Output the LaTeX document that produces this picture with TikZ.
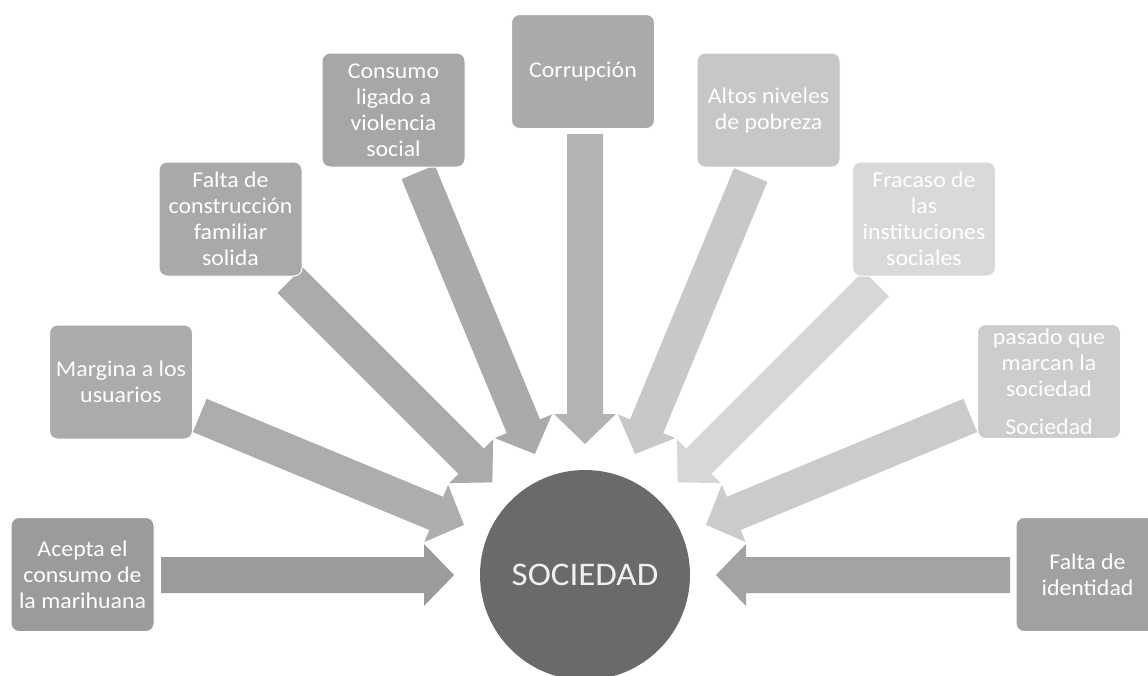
\documentclass[tikz,border=0pt]{standalone}
\usepackage{fontspec}
\setmainfont{Carlito}[FakeStretch=1.06]
\usetikzlibrary{calc}
\definecolor{bA}{HTML}{9B9B9B}\definecolor{aA}{HTML}{9B9B9B}
\definecolor{bB}{HTML}{ABABAB}\definecolor{aB}{HTML}{ADADAD}
\definecolor{bC}{HTML}{A9A9A9}\definecolor{aC}{HTML}{ABABAB}
\definecolor{bD}{HTML}{A7A7A7}\definecolor{aD}{HTML}{AAAAAA}
\definecolor{bE}{HTML}{AAAAAA}\definecolor{aE}{HTML}{B3B3B3}
\definecolor{bF}{HTML}{C7C7C7}\definecolor{aF}{HTML}{C8C8C8}
\definecolor{bG}{HTML}{D9D9D9}\definecolor{aG}{HTML}{D7D7D7}
\definecolor{bH}{HTML}{CDCDCD}\definecolor{aH}{HTML}{CBCBCB}
\definecolor{bI}{HTML}{A1A1A1}\definecolor{aI}{HTML}{A3A3A3}
\definecolor{socgray}{HTML}{6A6A6A}
\newcommand\fatarr[3]{%
  \coordinate (hb) at ($(#2)!30pt!(#1)$);
  \fill[#3] ($(#1)!18pt!90:(#2)$) -- ($(hb)!18pt!90:(#2)$) -- ($(hb)!31pt!90:(#2)$)
     -- (#2) -- ($(hb)!31pt!-90:(#2)$) -- ($(hb)!18pt!-90:(#2)$) -- ($(#1)!18pt!-90:(#2)$) -- cycle;}
\begin{document}
\begin{tikzpicture}[x=1pt,y=-1pt,
  box/.style={rounded corners=8pt, fill=#1, draw=white, line width=1pt,
    minimum width=143pt, minimum height=114pt, text=white, align=center,
    font=\fontsize{22.5}{26}\selectfont, inner sep=0pt}]
\useasboundingbox (0,0) rectangle (1148,675);
\node[circle, fill=socgray, minimum size=210pt, inner sep=0pt, text=white!94!black,
  font=\fontsize{33}{36}\selectfont] (soc) at (585,575) {SOCIEDAD};
% tails and tips
\foreach \n/\a/\d in {1/180/424, 2/157.5/417, 3/135/417, 4/112.5/436, 5/90/441,
                      6/67.5/433, 7/45/412, 8/22.5/417, 9/0/425}{
  \coordinate (s\n) at ($(soc.center)+(\a:\d pt)$);
  \coordinate (t\n) at ($(soc.center)+(\a:131pt)$);
}
\fatarr{s1}{t1}{aA}
\fatarr{s2}{t2}{aB}
\fatarr{s3}{t3}{aC}
\fatarr{s4}{t4}{aD}
\fatarr{s5}{t5}{aE}
\fatarr{s6}{t6}{aF}
\fatarr{s7}{t7}{aG}
\fatarr{s8}{t8}{aH}
\fatarr{s9}{t9}{aI}
% boxes
\node[box=bA] (b1) at (82.5,574.5) {Acepta el\\consumo de\\la marihuana};
\node[box=bB] (b2) at (121,382) {Margina a los\\usuarios};
\node[box=bC] (b3) at (230.5,219) {Falta de\\construcción\\familiar\\solida};
\node[box=bD] (b4) at (393.5,110) {Consumo\\ligado a\\violencia\\social};
\node[box=bE] (b5) at (583,71.5) {Corrupción};
\node[box=bF] (b6) at (768.5,110) {Altos niveles\\de pobreza};
\node[box=bG] (b7) at (924,219) {Fracaso de\\las\\instituciones\\sociales};
\node[box=bH] (b8) at (1049,381.5) {pasado que\\marcan la\\sociedad\\[12pt]Sociedad};
\node[box=bI] (b9) at (1087.5,574.5) {Falta de\\identidad};
\end{tikzpicture}
\end{document}
